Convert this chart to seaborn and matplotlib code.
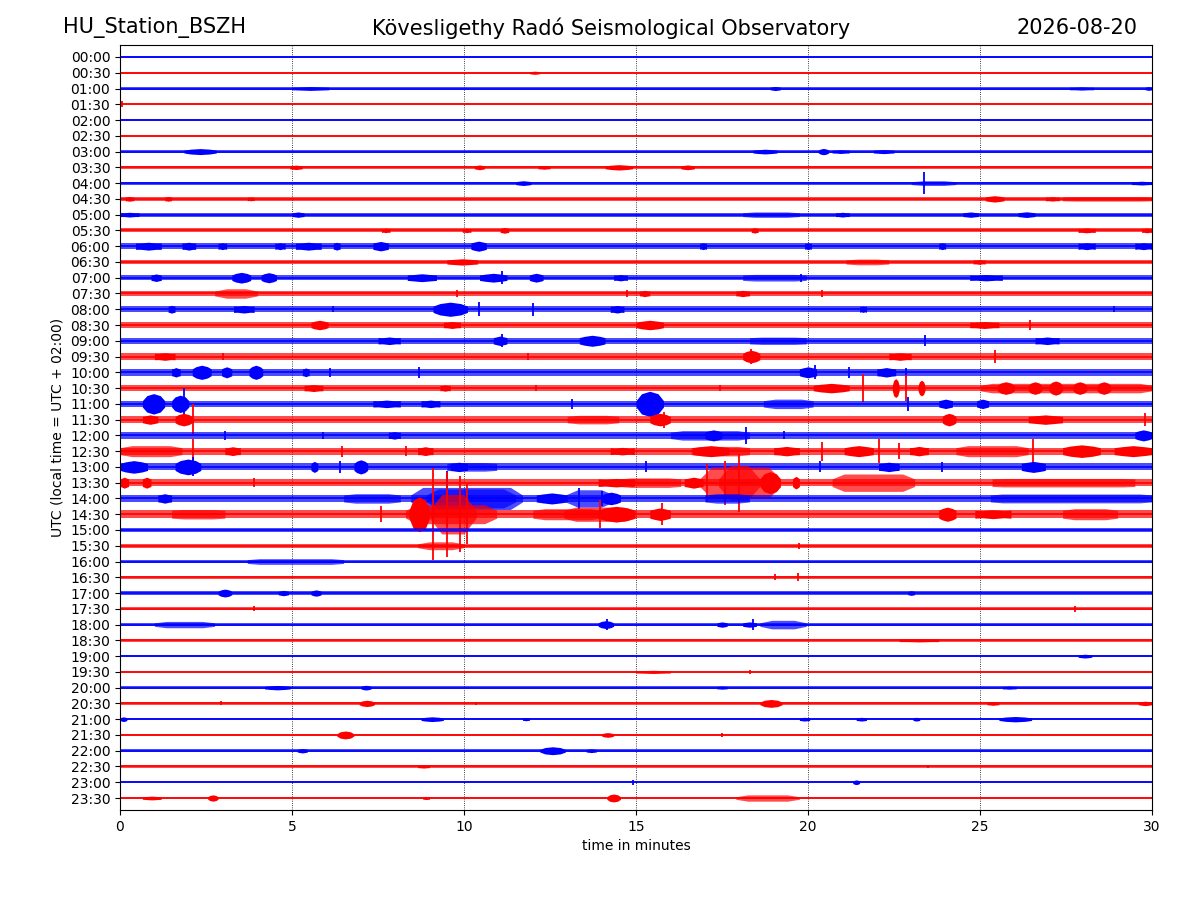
import numpy as np
import pandas as pd
import matplotlib
matplotlib.use("Agg")
import matplotlib.pyplot as plt
import seaborn as sns

# 48 half-hour lines of the helicorder, 30 minutes each
row_labels = ["%02d:%02d" % (h, m) for h in range(24) for m in (0, 30)]
row_colors = ["#0000ff", "#ff0000"] * 24

# background noise half-width of every line (in line spacings)
base_amp = [0.06, 0.06, 0.08, 0.07, 0.07, 0.06, 0.09, 0.09, 0.09, 0.12,
            0.12, 0.13, 0.20, 0.13, 0.17, 0.15, 0.20, 0.17, 0.20, 0.20,
            0.22, 0.17, 0.20, 0.20, 0.20, 0.22, 0.22, 0.24, 0.22, 0.25,
            0.12, 0.12, 0.12, 0.11, 0.11, 0.10, 0.11, 0.08, 0.07, 0.07,
            0.08, 0.08, 0.08, 0.07, 0.08, 0.07, 0.07, 0.08]

# wave packets: line, start minute, end minute, half-width
burst_row = [1, 2, 2, 2, 2, 6, 6, 6, 6, 6, 7, 7, 7, 7, 7, 8, 8, 8,
             9, 9, 9, 9, 9, 9, 10, 10, 10, 10, 10, 10, 11, 11, 11, 11, 11, 11,
             12, 12, 12, 12, 12, 12, 12, 12, 12, 12, 12, 12, 12, 13, 13, 13,
             14, 14, 14, 14, 14, 14, 14, 14, 14, 15, 15, 15, 16, 16, 16, 16, 16,
             17, 17, 17, 17, 18, 18, 18, 18, 18, 19, 19, 19,
             20, 20, 20, 20, 20, 20, 20,
             21, 21, 21, 21, 21, 21, 21, 21, 21, 21, 21,
             22, 22, 22, 22, 22, 22, 22, 22, 23, 23, 23, 23, 23, 23,
             24, 24, 24, 24, 25, 25, 25, 25, 25, 25, 25, 25, 25, 25, 25, 25,
             26, 26, 26, 26, 26, 26, 26, 26,
             27, 27, 27, 27, 27, 27, 27, 27, 27, 27, 27,
             28, 28, 28, 28, 28, 28, 28, 28, 28,
             29, 29, 29, 29, 29, 29, 29, 29, 29, 29, 29,
             31, 32, 34, 34, 34, 34, 36, 36, 36, 36, 36, 37, 38, 39,
             40, 40, 40, 40, 41, 41, 41, 41, 42, 42, 42, 42, 42, 42, 42,
             43, 43, 44, 44, 44, 45, 46, 47, 47, 47, 47, 47]
burst_start = [11.9, 5.0, 18.9, 27.6, 29.8, 1.86, 18.4, 20.3, 20.7, 21.9,
               4.93, 10.3, 12.15, 14.1, 16.3, 11.5, 23.0, 29.4,
               0.15, 1.3, 3.7, 25.15, 26.9, 27.4, 0.0, 5.0, 18.1, 20.8, 24.5, 26.1,
               7.6, 9.95, 11.05, 18.35, 27.85, 29.7,
               0.45, 1.8, 2.85, 4.5, 5.1, 6.2, 7.35, 10.2, 16.85, 19.9, 23.8, 27.85, 29.5,
               9.5, 21.1, 24.8,
               0.9, 3.25, 4.1, 8.35, 10.45, 11.9, 14.35, 18.1, 24.7,
               2.75, 15.1, 17.9, 1.4, 3.3, 9.1, 14.25, 21.5,
               5.55, 9.4, 15.0, 24.7, 7.5, 10.85, 13.35, 18.3, 26.6,
               1.0, 18.1, 22.35,
               1.5, 2.1, 2.95, 3.75, 5.3, 19.75, 22.0,
               5.35, 9.3, 20.15, 22.45, 23.2, 25.0, 25.5, 26.4, 27.0, 27.7, 28.4,
               0.65, 1.5, 7.35, 8.75, 15.0, 18.7, 23.8, 24.9,
               0.65, 1.6, 13.0, 15.4, 23.9, 26.4,
               7.8, 16.0, 17.0, 29.5,
               0.0, 3.05, 8.65, 14.25, 16.6, 16.65, 19.0, 21.05, 22.95, 24.3, 27.4, 28.9,
               0.0, 1.6, 5.55, 6.8, 9.5, 9.6, 22.05, 26.2,
               0.0, 0.65, 13.9, 14.5, 16.4, 16.85, 17.4, 18.6, 19.55, 20.7, 25.35,
               1.1, 6.5, 8.45, 8.9, 12.1, 12.95, 14.0, 17.0, 25.3,
               1.5, 8.3, 8.4, 9.0, 12.0, 12.9, 13.9, 15.4, 23.8, 24.85, 27.4,
               8.65, 3.7, 2.85, 4.6, 5.55, 22.9, 1.0, 13.9, 17.35, 18.1, 18.6, 22.65, 27.85, 15.0,
               4.2, 7.0, 17.35, 25.65, 6.95, 18.6, 25.2, 29.6,
               0.0, 8.75, 11.7, 19.75, 21.4, 23.05, 25.55,
               6.3, 14.0, 5.15, 12.2, 13.55, 8.65, 21.3,
               0.65, 2.55, 8.8, 14.15, 17.9]
burst_end = [12.2, 6.07, 19.2, 28.3, 30.0, 2.8, 19.1, 20.6, 21.2, 22.5,
             5.3, 10.6, 12.5, 14.9, 16.7, 11.95, 24.3, 30.0,
             0.4, 1.5, 3.9, 25.7, 27.3, 30.0, 0.55, 5.35, 19.75, 21.2, 24.95, 26.6,
             7.85, 10.2, 11.3, 18.55, 28.35, 30.0,
             1.2, 2.2, 3.1, 4.8, 5.85, 6.4, 7.8, 10.65, 17.05, 20.1, 24.0, 28.35, 30.0,
             10.4, 22.35, 25.15,
             1.2, 3.8, 4.55, 9.2, 11.25, 12.3, 14.75, 19.95, 25.65,
             4.0, 15.4, 18.3, 1.6, 3.9, 10.1, 14.65, 21.7,
             6.05, 9.9, 15.8, 25.55, 8.15, 11.25, 14.1, 19.95, 27.3,
             1.6, 18.6, 23.0,
             1.75, 2.65, 3.25, 4.15, 5.5, 20.25, 22.55,
             5.9, 9.6, 21.2, 22.65, 23.4, 30.0, 26.0, 26.8, 27.4, 28.1, 28.8,
             1.3, 2.0, 8.15, 9.3, 15.8, 20.15, 24.2, 25.25,
             1.1, 2.1, 14.5, 16.0, 24.3, 27.4,
             8.15, 18.3, 17.5, 30.0,
             1.8, 3.5, 9.1, 14.95, 18.3, 17.7, 19.75, 21.9, 23.5, 26.4, 28.5, 30.0,
             0.8, 2.35, 5.75, 7.2, 10.95, 10.1, 22.65, 26.9,
             0.25, 0.9, 14.95, 16.3, 16.95, 19.2, 18.6, 19.2, 19.75, 23.1, 29.5,
             1.5, 8.15, 11.7, 11.5, 13.0, 14.35, 14.55, 18.3, 30.0,
             3.05, 10.95, 9.0, 10.35, 14.0, 15.0, 14.95, 16.0, 24.3, 25.9, 29.0,
             10.0, 6.5, 3.25, 4.9, 5.85, 23.1, 2.75, 14.35, 17.65, 18.5, 19.95, 23.8, 28.25, 16.0,
             4.95, 7.3, 17.65, 26.05, 7.4, 19.25, 25.55, 30.0,
             0.2, 9.4, 11.9, 20.05, 21.7, 23.25, 26.5,
             6.8, 14.35, 5.45, 12.95, 13.85, 9.0, 21.5,
             1.2, 2.85, 9.0, 14.55, 19.75]
burst_amp = [0.10, 0.12, 0.13, 0.10, 0.12, 0.19, 0.15, 0.20, 0.12, 0.13,
             0.14, 0.15, 0.12, 0.17, 0.15, 0.15, 0.15, 0.12,
             0.15, 0.15, 0.12, 0.20, 0.14, 0.14, 0.15, 0.17, 0.17, 0.15, 0.17, 0.18,
             0.14, 0.14, 0.18, 0.17, 0.15, 0.15,
             0.25, 0.25, 0.22, 0.22, 0.25, 0.25, 0.30, 0.32, 0.22, 0.22, 0.22, 0.22, 0.22,
             0.20, 0.18, 0.15,
             0.24, 0.34, 0.32, 0.25, 0.28, 0.28, 0.20, 0.21, 0.20,
             0.30, 0.20, 0.20, 0.25, 0.24, 0.45, 0.24, 0.20,
             0.30, 0.22, 0.30, 0.22, 0.24, 0.30, 0.35, 0.23, 0.24,
             0.24, 0.40, 0.24,
             0.30, 0.45, 0.35, 0.45, 0.28, 0.35, 0.30,
             0.22, 0.20, 0.30, 0.60, 0.50, 0.30, 0.40, 0.40, 0.45, 0.40, 0.40,
             0.65, 0.55, 0.24, 0.24, 0.80, 0.30, 0.30, 0.30,
             0.30, 0.40, 0.27, 0.40, 0.40, 0.30,
             0.24, 0.30, 0.35, 0.35,
             0.35, 0.28, 0.28, 0.24, 0.30, 0.35, 0.30, 0.35, 0.30, 0.35, 0.40, 0.35,
             0.40, 0.50, 0.35, 0.45, 0.27, 0.30, 0.30, 0.35,
             0.35, 0.35, 0.27, 0.30, 0.35, 1.00, 1.10, 0.70, 0.40, 0.55, 0.27,
             0.30, 0.30, 0.70, 0.60, 0.35, 0.55, 0.40, 0.30, 0.28,
             0.30, 0.60, 1.10, 1.25, 0.35, 0.45, 0.50, 0.40, 0.45, 0.28, 0.35,
             0.25, 0.18, 0.25, 0.17, 0.20, 0.15, 0.20, 0.25, 0.17, 0.17, 0.27, 0.10, 0.12, 0.10,
             0.14, 0.15, 0.10, 0.10, 0.20, 0.25, 0.12, 0.14,
             0.15, 0.15, 0.10, 0.12, 0.12, 0.12, 0.17,
             0.25, 0.15, 0.14, 0.25, 0.12, 0.10, 0.15,
             0.12, 0.20, 0.10, 0.25, 0.20]

# single sharp spikes: line, minute, half-width
spike_row = [3, 8, 14, 14, 15, 15, 15, 16, 16, 16, 16, 17, 18, 18,
             19, 19, 19, 19, 20, 20, 20, 20, 20, 21, 21, 21, 21,
             22, 22, 22, 23, 23, 23, 24, 24, 24, 24,
             25, 25, 25, 25, 25, 25, 25, 26, 26, 26, 26, 26,
             27, 27, 27, 27, 28, 28, 28,
             29, 29, 29, 29, 29, 29, 29, 31, 33, 33, 35, 35, 36, 36,
             39, 41, 41, 43, 45, 46]
spike_time = [0.05, 23.38, 11.1, 19.8, 14.75, 20.4, 9.8, 6.2, 10.45, 12.0, 28.9, 26.45, 23.4, 11.1,
              3.0, 11.85, 18.35, 25.45, 6.1, 8.7, 20.2, 21.2, 22.85, 12.1, 17.45, 21.6, 22.85,
              1.85, 13.15, 22.9, 2.12, 15.8, 29.8, 3.05, 5.9, 18.2, 19.3,
              2.12, 6.45, 8.3, 20.4, 22.05, 22.65, 26.55, 2.12, 6.4, 15.3, 20.35, 23.9,
              3.9, 17.05, 17.6, 18.0, 9.5, 13.35, 14.0,
              7.6, 9.1, 9.5, 9.87, 10.1, 13.95, 15.75, 19.75, 19.05, 19.7, 3.9, 27.75, 14.15, 18.4,
              18.3, 2.95, 10.35, 17.5, 23.5, 14.9]
spike_amp = [0.20, 0.70, 0.40, 0.25, 0.25, 0.20, 0.20, 0.20, 0.45, 0.40, 0.20, 0.30, 0.35, 0.40,
             0.25, 0.20, 0.45, 0.40, 0.30, 0.35, 0.45, 0.35, 0.30, 0.20, 0.20, 0.90, 0.80,
             1.00, 0.30, 0.45, 1.00, 0.50, 0.40, 0.30, 0.20, 0.55, 0.25,
             0.75, 0.35, 0.30, 0.60, 0.75, 0.50, 0.75, 0.60, 0.40, 0.35, 0.35, 0.30,
             0.30, 1.20, 1.40, 1.85, 1.75, 0.65, 0.45,
             0.50, 2.90, 2.70, 2.40, 1.90, 0.90, 0.70, 0.20, 0.20, 0.25, 0.15, 0.20, 0.35, 0.35,
             0.12, 0.13, 0.10, 0.10, 0.12, 0.17]

n_rows = len(row_labels)

fig = plt.figure(figsize=(12, 9), dpi=100)
ax = fig.add_axes([0.1, 0.1, 0.86, 0.85])

# centre line of every trace (kept under the packets so later lines overlap earlier ones)
lines = pd.DataFrame({
    "minute": [0.0, 30.0] * n_rows,
    "offset": [r for r in range(n_rows) for _ in range(2)],
    "row": [row_labels[r] for r in range(n_rows) for _ in range(2)],
})
sns.lineplot(data=lines, x="minute", y="offset", hue="row",
             palette=dict(zip(row_labels, row_colors)), legend=False,
             linewidth=1.2, ax=ax, zorder=1.5)

# noise band, packets and spikes, drawn line by line so later lines lie on top
for r in range(n_rows):
    c = row_colors[r]
    b = base_amp[r]
    z = 2 + r * 0.01
    ax.fill_between([0, 30], r - b, r + b, color=c, alpha=0.7, lw=0, zorder=z)
    for br, t0, t1, a in zip(burst_row, burst_start, burst_end, burst_amp):
        if br != r:
            continue
        w = t1 - t0
        if w <= 1.2:
            # short packet: spindle shape
            xs = [t0, t0 + 0.2 * w, t0 + 0.5 * w, t0 + 0.8 * w, t1]
            hs = [b, 0.8 * a, a, 0.8 * a, b]
            alpha = 1.0
        else:
            # long stretch of raised noise, drawn lighter
            xs = [t0, t0 + 0.35, t1 - 0.35, t1]
            hs = [b, a, a, b]
            alpha = 0.7
        ax.fill_between(xs, [r - h for h in hs], [r + h for h in hs],
                        color=c, alpha=alpha, lw=0, zorder=z)
    for sr, t, a in zip(spike_row, spike_time, spike_amp):
        if sr == r:
            ax.vlines(t, r - a, r + a, color=c, lw=1.3, zorder=z)

ax.set_xlim(0, 30)
ax.set_ylim(n_rows - 1 + 0.76, -0.76)
ax.set_xticks(range(0, 31, 5))
ax.set_yticks(range(n_rows))
ax.set_yticklabels(row_labels)
ax.grid(axis="x", linestyle=":", color="black", linewidth=0.6)
ax.grid(axis="y", visible=False)
ax.set_axisbelow(True)
ax.set_xlabel("time in minutes")
ax.set_ylabel("UTC (local time = UTC + 02:00)")

fig.text(0.0525, 0.969, "HU_Station_BSZH", ha="left", va="center", fontsize=15)
fig.text(0.509, 0.969, "Kövesligethy Radó Seismological Observatory",
         ha="center", va="center", fontsize=15)
fig.text(0.9475, 0.969, "2026-08-20", ha="right", va="center", fontsize=15)

fig.savefig("out.png", dpi=100)
